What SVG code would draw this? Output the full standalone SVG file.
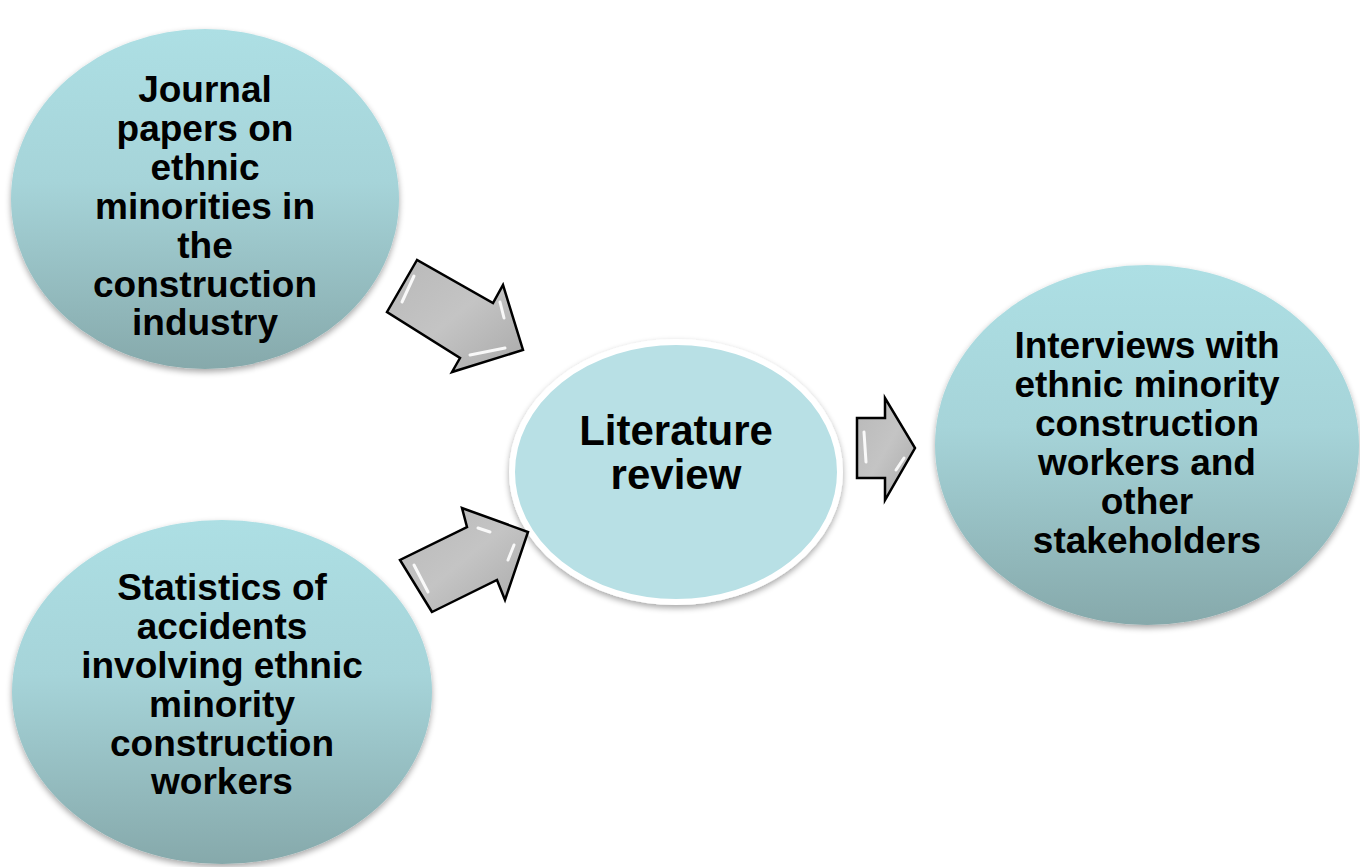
<svg xmlns="http://www.w3.org/2000/svg" width="1360" height="867" viewBox="0 0 1360 867">
<defs>
<linearGradient id="tealGrad" x1="0" y1="0" x2="0" y2="1">
<stop offset="0" stop-color="#addfe4"/>
<stop offset="0.45" stop-color="#a6d4d9"/>
<stop offset="1" stop-color="#86a9ab"/>
</linearGradient>
<linearGradient id="grayGrad" x1="0" y1="0" x2="1" y2="1">
<stop offset="0" stop-color="#b8b8b8"/>
<stop offset="0.5" stop-color="#c4c4c4"/>
<stop offset="1" stop-color="#a9a9a9"/>
</linearGradient>
<filter id="shadow" x="-10%" y="-10%" width="120%" height="125%">
<feGaussianBlur in="SourceAlpha" stdDeviation="3"/>
<feOffset dx="0" dy="3" result="b"/>
<feComponentTransfer><feFuncA type="linear" slope="0.35"/></feComponentTransfer>
<feMerge><feMergeNode/><feMergeNode in="SourceGraphic"/></feMerge>
</filter>
</defs>
<style>
.node{fill:url(#tealGrad);filter:url(#shadow);}
.center{fill:#b8e0e5;stroke:#ffffff;stroke-width:6;filter:url(#shadow);}
.lbl{font-family:"Liberation Sans",Arial,sans-serif;font-weight:bold;font-size:37px;fill:#000;text-anchor:middle;}
.big{font-size:42px;}
.arrow{fill:url(#grayGrad);stroke:#000;stroke-width:2.5;stroke-linejoin:miter;}
.hl{fill:none;stroke:#ffffff;stroke-width:3;stroke-linecap:round;opacity:0.9;}
</style>
<rect width="1360" height="867" fill="#ffffff"/>

<g id="node-journal">
<ellipse class="node" cx="205" cy="199" rx="194" ry="170"/>
<text class="lbl" x="205" y="102">Journal</text>
<text class="lbl" x="205" y="141">papers on</text>
<text class="lbl" x="205" y="180">ethnic</text>
<text class="lbl" x="205" y="219">minorities in</text>
<text class="lbl" x="205" y="258">the</text>
<text class="lbl" x="205" y="297">construction</text>
<text class="lbl" x="205" y="335">industry</text>
</g>

<g id="node-statistics">
<ellipse class="node" cx="222" cy="692" rx="210" ry="172"/>
<text class="lbl" x="222" y="600">Statistics of</text>
<text class="lbl" x="222" y="639">accidents</text>
<text class="lbl" x="222" y="678">involving ethnic</text>
<text class="lbl" x="222" y="717">minority</text>
<text class="lbl" x="222" y="756">construction</text>
<text class="lbl" x="222" y="794">workers</text>
</g>

<g id="node-literature">
<ellipse class="center" cx="676" cy="472" rx="164" ry="130"/>
<text class="lbl big" x="676" y="445">Literature</text>
<text class="lbl big" x="676" y="489">review</text>
</g>

<g id="node-interviews">
<ellipse class="node" cx="1147" cy="445" rx="212" ry="180"/>
<text class="lbl" x="1147" y="358">Interviews with</text>
<text class="lbl" x="1147" y="397">ethnic minority</text>
<text class="lbl" x="1147" y="436">construction</text>
<text class="lbl" x="1147" y="475">workers and</text>
<text class="lbl" x="1147" y="514">other</text>
<text class="lbl" x="1147" y="553">stakeholders</text>
</g>

<g id="connectors">
<g id="arrow-journal-literature">
<polygon class="arrow" points="417,260 387,312 460,358 452,372 523,350 503,285 493,303"/>
<path class="hl" d="M414,276 L402,302"/>
<path class="hl" d="M470,355 L505,348"/>
<path class="hl" d="M500,302 L504,318"/>
</g>
<g id="arrow-statistics-literature">
<polygon class="arrow" points="432,612 400,560 467,527 462,508 528,532 505,600 497,580"/>
<path class="hl" d="M414,565 L428,592"/>
<path class="hl" d="M478,528 L490,532"/>
<path class="hl" d="M508,560 L514,545"/>
</g>
<g id="arrow-literature-interviews">
<polygon class="arrow" points="857,418 885,418 885,398 915,448 885,500 885,478 857,478"/>
<path class="hl" d="M864,432 L866,462"/>
<path class="hl" d="M896,470 L904,458"/>
</g>
</g>
</svg>
